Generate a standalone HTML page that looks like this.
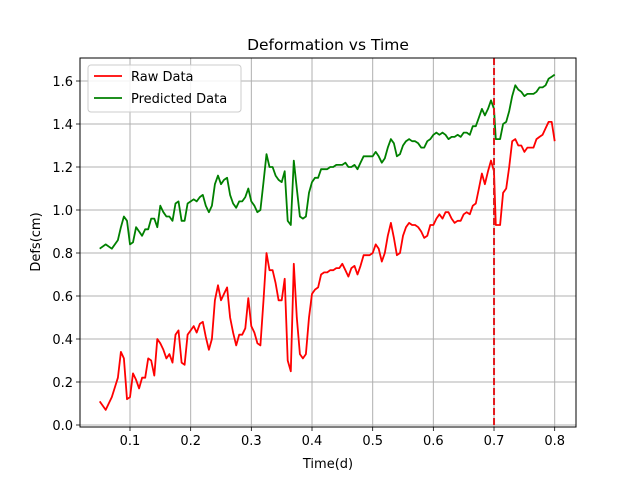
<!DOCTYPE html>
<html><head><meta charset="utf-8"><style>
html,body{margin:0;padding:0;background:#fff;}
svg{display:block;font-family:"DejaVu Sans","Liberation Sans",sans-serif;}
</style></head><body>
<svg id="chart" width="640" height="480"></svg>
<script>
const times=[0.05,0.06,0.07,0.08,0.085,0.09,0.095,0.10,0.105,0.11,0.115,0.12,0.125,0.13,0.135,0.14,0.145,0.15,0.155,0.16,0.165,0.17,0.175,0.18,0.185,0.19,0.195,0.20,0.205,0.21,0.215,0.22,0.225,0.23,0.235,0.24,0.245,0.25,0.255,0.26,0.265,0.27,0.275,0.28,0.285,0.29,0.295,0.30,0.305,0.31,0.315,0.32,0.325,0.33,0.335,0.34,0.345,0.35,0.355,0.36,0.365,0.37,0.375,0.38,0.385,0.39,0.395,0.40,0.405,0.41,0.415,0.42,0.425,0.43,0.435,0.44,0.445,0.45,0.455,0.46,0.465,0.47,0.475,0.48,0.485,0.49,0.495,0.50,0.505,0.51,0.515,0.52,0.525,0.53,0.535,0.54,0.545,0.55,0.555,0.56,0.565,0.57,0.575,0.58,0.585,0.59,0.595,0.60,0.605,0.61,0.615,0.62,0.625,0.63,0.635,0.64,0.645,0.65,0.655,0.66,0.665,0.67,0.675,0.68,0.685,0.69,0.695,0.70,0.703,0.71,0.715,0.72,0.725,0.73,0.735,0.74,0.745,0.75,0.755,0.76,0.765,0.77,0.775,0.78,0.785,0.79,0.795,0.80];
const rawData=[0.11,0.07,0.13,0.22,0.34,0.31,0.12,0.13,0.24,0.21,0.17,0.22,0.22,0.31,0.30,0.23,0.40,0.38,0.35,0.31,0.33,0.29,0.42,0.44,0.29,0.28,0.42,0.44,0.46,0.43,0.47,0.48,0.41,0.35,0.40,0.58,0.65,0.58,0.61,0.64,0.50,0.43,0.37,0.42,0.42,0.45,0.59,0.46,0.43,0.38,0.37,0.58,0.80,0.72,0.72,0.66,0.58,0.58,0.68,0.30,0.25,0.75,0.50,0.33,0.31,0.33,0.50,0.61,0.63,0.64,0.70,0.71,0.71,0.72,0.72,0.73,0.73,0.75,0.72,0.69,0.73,0.74,0.70,0.74,0.79,0.79,0.79,0.80,0.84,0.82,0.76,0.80,0.88,0.94,0.87,0.79,0.80,0.88,0.92,0.94,0.93,0.93,0.92,0.90,0.87,0.88,0.93,0.93,0.96,0.98,0.96,0.99,0.99,0.96,0.94,0.95,0.95,0.98,0.99,0.98,1.02,1.03,1.10,1.17,1.12,1.18,1.23,1.18,0.93,0.93,1.08,1.10,1.20,1.32,1.33,1.30,1.30,1.27,1.29,1.29,1.29,1.33,1.34,1.35,1.38,1.41,1.41,1.32];
const predData=[0.82,0.84,0.82,0.86,0.92,0.97,0.95,0.84,0.85,0.92,0.90,0.88,0.91,0.91,0.96,0.96,0.92,1.02,0.99,0.97,0.97,0.95,1.03,1.04,0.95,0.95,1.03,1.04,1.05,1.04,1.06,1.07,1.02,0.99,1.02,1.12,1.16,1.12,1.14,1.15,1.07,1.03,1.01,1.04,1.04,1.06,1.10,1.04,1.02,0.99,1.00,1.13,1.26,1.20,1.20,1.16,1.14,1.13,1.18,0.95,0.93,1.23,1.10,0.97,0.96,0.97,1.08,1.13,1.15,1.15,1.19,1.19,1.19,1.20,1.20,1.21,1.21,1.21,1.22,1.20,1.20,1.21,1.19,1.22,1.25,1.25,1.25,1.25,1.27,1.25,1.22,1.24,1.29,1.33,1.31,1.25,1.26,1.30,1.32,1.33,1.32,1.32,1.31,1.29,1.29,1.32,1.33,1.35,1.36,1.35,1.36,1.35,1.33,1.34,1.34,1.35,1.34,1.36,1.36,1.35,1.39,1.39,1.43,1.47,1.44,1.47,1.51,1.47,1.33,1.33,1.40,1.41,1.46,1.53,1.58,1.56,1.55,1.53,1.54,1.54,1.54,1.55,1.57,1.57,1.58,1.61,1.62,1.63];
const xTicks=[0.1,0.2,0.3,0.4,0.5,0.6,0.7,0.8];
const yTicks=[0.0,0.2,0.4,0.6,0.8,1.0,1.2,1.4,1.6];
const splitTime=0.70;

const L=80,R=576,T=58,B=427;
const X=v=>130+(v-0.1)*606.7;
const Y=v=>425-v*215;
const svg=document.getElementById('chart');
const NS='http://www.w3.org/2000/svg';
function mk(tag,attrs,parent){const e=document.createElementNS(NS,tag);for(const k in attrs)e.setAttribute(k,attrs[k]);(parent||svg).appendChild(e);return e;}

// grid + ticks
xTicks.forEach(t=>{
  const g=mk('line',{x1:X(t),x2:X(t),y1:T,y2:B,stroke:'#b0b0b0','stroke-width':1});
  
  
  mk('line',{x1:X(t),x2:X(t),y1:B,y2:B+4,stroke:'#000','stroke-width':0.8});
  const tx=mk('text',{x:X(t),y:B+18,'font-size':13,'text-anchor':'middle',fill:'#000'});
  tx.textContent=t.toFixed(1);
  
  
});
yTicks.forEach(t=>{
  const g=mk('line',{x1:L,x2:R,y1:Y(t),y2:Y(t),stroke:'#b0b0b0','stroke-width':1});
  
  
  mk('line',{x1:L-4,x2:L,y1:Y(t),y2:Y(t),stroke:'#000','stroke-width':0.8});
  const tx=mk('text',{x:L-7,y:Y(t)+5,'font-size':13,'text-anchor':'end',fill:'#000'});
  tx.textContent=t.toFixed(1);
  
  
});

function series(vals,color,name){
  const d=vals.map((v,i)=>(i?'L':'M')+X(times[i]).toFixed(1)+','+Y(v).toFixed(1)).join('');
  const p=mk('path',{d:d,fill:'none',stroke:color,'stroke-width':1.8,'stroke-linejoin':'round'});
  
  
}
series(rawData,'#ff0000','raw-data-line');
series(predData,'#008000','predicted-data-line');

const vl=mk('line',{x1:X(splitTime),x2:X(splitTime),y1:T,y2:B,stroke:'#e31a1c','stroke-width':2,'stroke-dasharray':'7,3'});



const fr=mk('rect',{x:L,y:T,width:R-L,height:B-T,fill:'none',stroke:'#000','stroke-width':1});



const title=mk('text',{x:328,y:50,'font-size':15.5,'text-anchor':'middle',fill:'#000'});
title.textContent='Deformation vs Time';


const xl=mk('text',{x:328,y:468,'font-size':13,'text-anchor':'middle',fill:'#000'});
xl.textContent='Time(d)';


const yl=mk('text',{x:40,y:242,'font-size':13,'text-anchor':'middle',fill:'#000',transform:'rotate(-90 40 242)'});
yl.textContent='Defs(cm)';



// legend
const lg=mk('g',{});


mk('rect',{x:88,y:65,width:153,height:47,rx:3,fill:'#fff','fill-opacity':0.85,stroke:'#ccc','stroke-width':1},lg);
[['Raw Data','#ff0000',76],['Predicted Data','#008000',98]].forEach(([n,c,y])=>{
  const e=mk('g',{},lg);
  
  
  mk('line',{x1:94,x2:122,y1:y,y2:y,stroke:c,'stroke-width':1.8},e);
  const t=mk('text',{x:131,y:y+5,'font-size':13,fill:'#000'},e);
  t.textContent=n;
});
</script>
</body></html>
